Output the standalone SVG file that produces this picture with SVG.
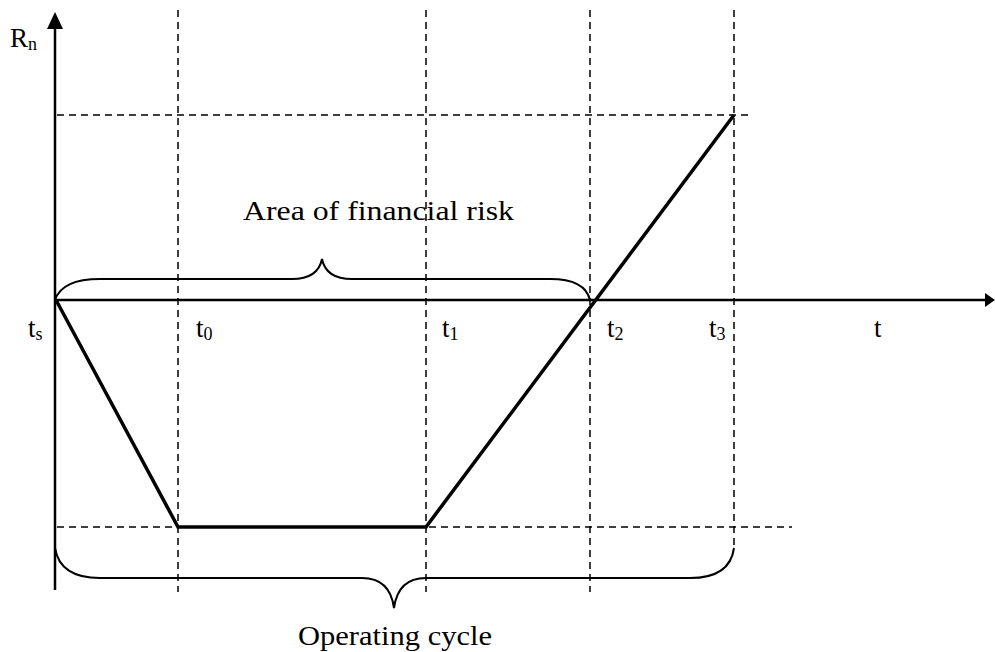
<svg xmlns="http://www.w3.org/2000/svg" width="995" height="652" viewBox="0 0 995 652">
<defs>
<style>
.dash{stroke:#000;stroke-width:1.5;stroke-dasharray:7 5;fill:none}
.axis{stroke:#000;stroke-width:2.5;fill:none}
.thick{stroke:#000;stroke-width:3.5;fill:none;stroke-linejoin:miter}
.brace{stroke:#000;stroke-width:2;fill:none}
text{font-family:"Liberation Serif","Times New Roman",serif;font-size:27px;fill:#000}
.sub{font-size:18px}
</style>
</defs>
<rect width="995" height="652" fill="#fff"/>
<g id="grid">
<line class="dash" x1="178" y1="10" x2="178" y2="592"/>
<line class="dash" x1="426" y1="10" x2="426" y2="592"/>
<line class="dash" x1="590" y1="10" x2="590" y2="592"/>
<line class="dash" x1="734" y1="10" x2="734" y2="550"/>
<line class="dash" x1="57" y1="115" x2="748" y2="115"/>
<line class="dash" x1="57" y1="527" x2="792" y2="527"/>
</g>
<g id="axes">
<line class="axis" x1="55" y1="26" x2="55" y2="590"/>
<polygon points="55,12 47,29 63,29" fill="#000"/>
<line class="axis" x1="55" y1="300" x2="985" y2="300"/>
<polygon points="995,300 985,293 985,307" fill="#000"/>
</g>
<g id="curve">
<polyline class="thick" points="56,300 178,527 426,527 734,115"/>
</g>
<g id="brace-risk">
<path class="brace" d="M55,300 Q62,279 100,279 L292,279 Q318,279 322,259 Q326,279 352,279 L550,279 Q585,279 590,300"/>
</g>
<g id="brace-cycle">
<path class="brace" d="M55,548 Q60,578 100,578 L362,578 Q390,578 394,608 Q398,578 426,578 L690,578 Q730,578 734,548"/>
</g>
<g id="labels">
<text x="10" y="47">R<tspan class="sub" dy="3">n</tspan></text>
<text x="28" y="337">t<tspan class="sub" dy="3">s</tspan></text>
<text x="196" y="337">t<tspan class="sub" dy="3">0</tspan></text>
<text x="442" y="337">t<tspan class="sub" dy="3">1</tspan></text>
<text x="607" y="337">t<tspan class="sub" dy="3">2</tspan></text>
<text x="709" y="337">t<tspan class="sub" dy="3">3</tspan></text>
<text x="874" y="337">t</text>
<text x="243" y="220" textLength="271" lengthAdjust="spacingAndGlyphs">Area of financial risk</text>
<text x="298" y="645" textLength="194" lengthAdjust="spacingAndGlyphs">Operating cycle</text>
</g>
</svg>
